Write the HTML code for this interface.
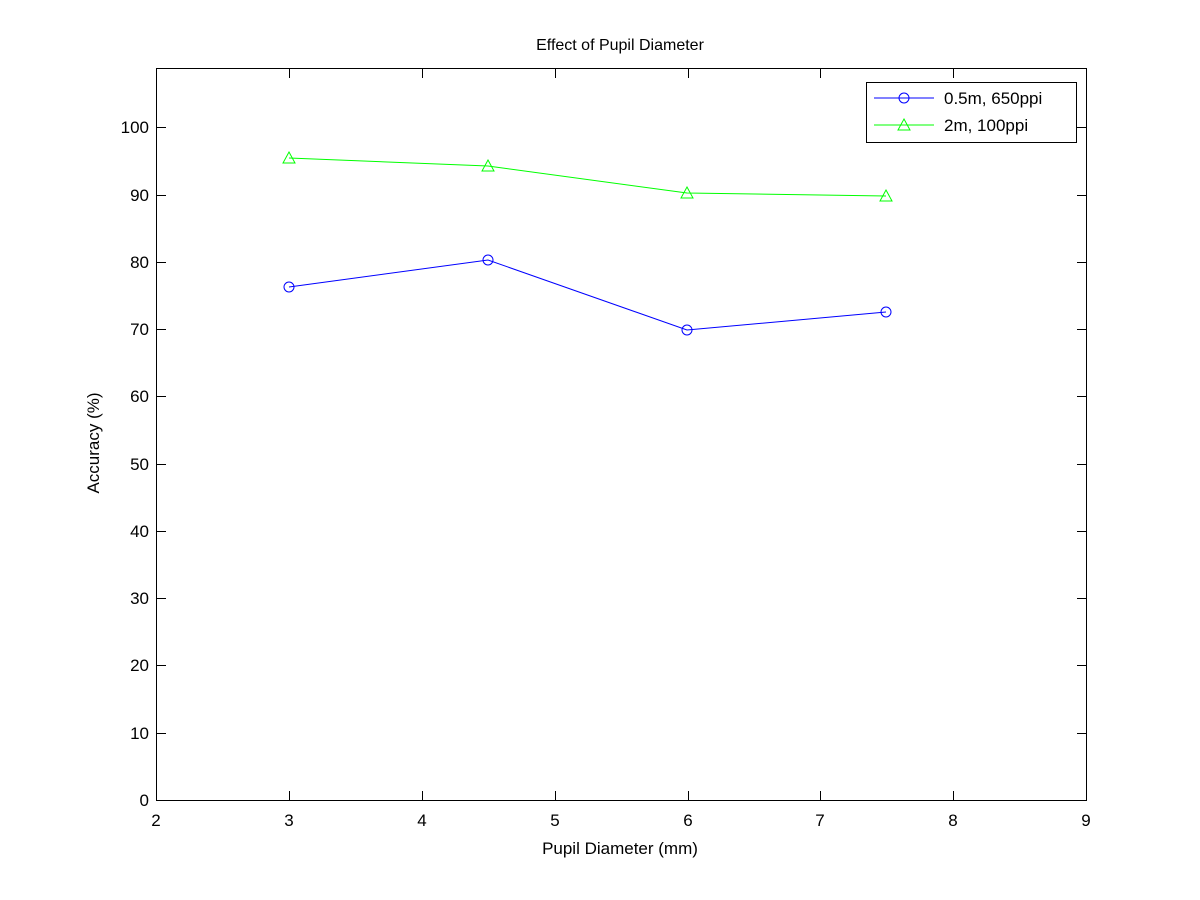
<!DOCTYPE html>
<html><head><style>body{margin:0;background:#fff}svg{display:block}text{font-family:"Liberation Sans",sans-serif;font-size:17px;fill:#000}</style></head><body>
<svg width="1200" height="900" xmlns="http://www.w3.org/2000/svg">
<rect width="1200" height="900" fill="#fff"/>
<rect x="156.5" y="68.5" width="930" height="732" fill="#fff" stroke="#000" stroke-width="1"/>
<g stroke="#000" stroke-width="1">
<line x1="289.5" y1="800" x2="289.5" y2="791"/><line x1="289.5" y1="69" x2="289.5" y2="78"/>
<line x1="422.5" y1="800" x2="422.5" y2="791"/><line x1="422.5" y1="69" x2="422.5" y2="78"/>
<line x1="555.5" y1="800" x2="555.5" y2="791"/><line x1="555.5" y1="69" x2="555.5" y2="78"/>
<line x1="688.5" y1="800" x2="688.5" y2="791"/><line x1="688.5" y1="69" x2="688.5" y2="78"/>
<line x1="820.5" y1="800" x2="820.5" y2="791"/><line x1="820.5" y1="69" x2="820.5" y2="78"/>
<line x1="953.5" y1="800" x2="953.5" y2="791"/><line x1="953.5" y1="69" x2="953.5" y2="78"/>
<line x1="157" y1="733.5" x2="166" y2="733.5"/><line x1="1086" y1="733.5" x2="1077" y2="733.5"/>
<line x1="157" y1="665.5" x2="166" y2="665.5"/><line x1="1086" y1="665.5" x2="1077" y2="665.5"/>
<line x1="157" y1="598.5" x2="166" y2="598.5"/><line x1="1086" y1="598.5" x2="1077" y2="598.5"/>
<line x1="157" y1="531.5" x2="166" y2="531.5"/><line x1="1086" y1="531.5" x2="1077" y2="531.5"/>
<line x1="157" y1="464.5" x2="166" y2="464.5"/><line x1="1086" y1="464.5" x2="1077" y2="464.5"/>
<line x1="157" y1="396.5" x2="166" y2="396.5"/><line x1="1086" y1="396.5" x2="1077" y2="396.5"/>
<line x1="157" y1="329.5" x2="166" y2="329.5"/><line x1="1086" y1="329.5" x2="1077" y2="329.5"/>
<line x1="157" y1="262.5" x2="166" y2="262.5"/><line x1="1086" y1="262.5" x2="1077" y2="262.5"/>
<line x1="157" y1="195.5" x2="166" y2="195.5"/><line x1="1086" y1="195.5" x2="1077" y2="195.5"/>
<line x1="157" y1="127.5" x2="166" y2="127.5"/><line x1="1086" y1="127.5" x2="1077" y2="127.5"/>
</g>
<g text-anchor="middle">
<text x="156" y="826">2</text><text x="289" y="826">3</text><text x="422" y="826">4</text><text x="555" y="826">5</text><text x="688" y="826">6</text><text x="820" y="826">7</text><text x="953" y="826">8</text><text x="1086" y="826">9</text>
</g>
<g text-anchor="end">
<text x="149" y="806">0</text><text x="149" y="739">10</text><text x="149" y="671">20</text><text x="149" y="604">30</text><text x="149" y="537">40</text><text x="149" y="470">50</text><text x="149" y="402">60</text><text x="149" y="335">70</text><text x="149" y="268">80</text><text x="149" y="201">90</text><text x="149" y="133">100</text>
</g>
<text x="620" y="854" text-anchor="middle">Pupil Diameter (mm)</text>
<text x="620" y="50" text-anchor="middle" style="font-size:16px">Effect of Pupil Diameter</text>
<text transform="translate(99,443) rotate(-90)" text-anchor="middle">Accuracy (%)</text>
<polyline points="289,287 488,260 687,330 886,312" fill="none" stroke="#00f" stroke-width="1"/>
<g fill="none" stroke="#00f"><circle cx="289" cy="287" r="5"/><circle cx="488" cy="260" r="5"/><circle cx="687" cy="330" r="5"/><circle cx="886" cy="312" r="5"/></g>
<polyline points="289,158 488,166 687,193 886,196" fill="none" stroke="#0f0" stroke-width="1"/>
<g fill="none" stroke="#0f0"><path d="M289,152 L295,163 L283,163Z"/><path d="M488,160 L494,171 L482,171Z"/><path d="M687,187 L693,198 L681,198Z"/><path d="M886,190 L892,201 L880,201Z"/></g>
<rect x="866.5" y="82.5" width="210" height="60" fill="#fff" stroke="#000"/>
<line x1="874" y1="98" x2="934" y2="98" stroke="#00f"/><circle cx="904" cy="98" r="5" fill="none" stroke="#00f"/>
<text x="944" y="104">0.5m, 650ppi</text>
<line x1="874" y1="125" x2="934" y2="125" stroke="#0f0"/><path d="M904,119 L910,130 L898,130Z" fill="none" stroke="#0f0"/>
<text x="944" y="131">2m, 100ppi</text>
</svg>
</body></html>
